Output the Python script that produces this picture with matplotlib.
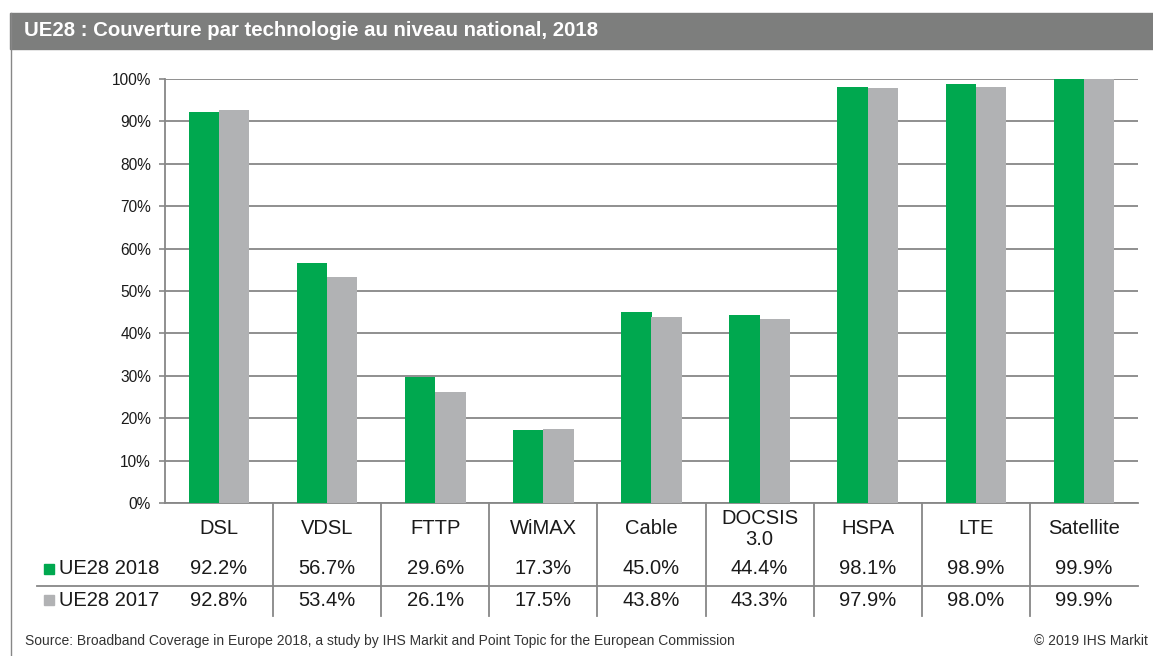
import matplotlib
matplotlib.use("Agg")
import matplotlib.pyplot as plt
import matplotlib.transforms as mtransforms
from matplotlib.patches import Rectangle
from matplotlib.lines import Line2D


# Chart data

categories = ["DSL", "VDSL", "FTTP", "WiMAX", "Cable", "DOCSIS\n3.0", "HSPA", "LTE", "Satellite"]
series_names = ["UE28 2018", "UE28 2017"]
values_2018 = [92.2, 56.7, 29.6, 17.3, 45.0, 44.4, 98.1, 98.9, 99.9]
values_2017 = [92.8, 53.4, 26.1, 17.5, 43.8, 43.3, 97.9, 98.0, 99.9]
y_ticks = [0, 10, 20, 30, 40, 50, 60, 70, 80, 90, 100]

title = "UE28 : Couverture par technologie au niveau national, 2018"
source = "Source: Broadband Coverage in Europe 2018, a study by IHS Markit and Point Topic for the European Commission"
copyright_note = "\u00a9 2019 IHS Markit"


# Style

W, H = 1153, 656
GREEN = "#00a84f"
GREY = "#b1b2b4"
LINE = "#878787"
TEXT = "#1a1a1a"
BAR_W = 0.28

plt.rcParams["font.family"] = ["Liberation Sans", "DejaVu Sans"]


def fy(py):
    # pixel row (from top) -> figure fraction
    return 1 - py / H


def fx(px):
    return px / W


fig = plt.figure(figsize=(W / 100, H / 100), dpi=100)

# title bar + left frame line
fig.patches.append(Rectangle((fx(10), fy(49)), 1 - fx(10), fy(13) - fy(49),
                             transform=fig.transFigure, color="#7d7e7d", zorder=0))
fig.text(fx(24), fy(31), title, color="white", fontsize=14.7, fontweight="bold",
         ha="left", va="center")
fig.lines.append(Line2D([fx(11), fx(11)], [fy(13), 0], transform=fig.transFigure,
                        color=LINE, lw=1.0))

# main axes
ax = fig.add_axes([fx(165), fy(503), fx(1138) - fx(165), fy(79) - fy(503)])
x = list(range(len(categories)))
ax.bar([i - BAR_W / 2 for i in x], values_2018, width=BAR_W, color=GREEN, zorder=3)
ax.bar([i + BAR_W / 2 for i in x], values_2017, width=BAR_W, color=GREY, zorder=3)

ax.set_xlim(-0.5, len(categories) - 0.5)
ax.set_ylim(0, 100)
ax.set_yticks(y_ticks)
ax.set_yticklabels([f"{t}%" for t in y_ticks], fontsize=11.2, color=TEXT)
ax.set_xticks([])
ax.yaxis.grid(True, color=LINE, lw=1.3, zorder=0)
ax.set_axisbelow(True)
ax.tick_params(axis="y", length=4, width=1.2, color=LINE, pad=6)
for side in ["top", "right"]:
    ax.spines[side].set_visible(False)
for side in ["left", "bottom"]:
    ax.spines[side].set_color(LINE)
    ax.spines[side].set_linewidth(1.3)

# data table under the chart
trans = mtransforms.blended_transform_factory(ax.transData, fig.transFigure)
row_y = [fy(569), fy(600)]
rows = [values_2018, values_2017]
colors = [GREEN, GREY]

for i, cat in enumerate(categories):
    ax.text(i, fy(529), cat, transform=trans, ha="center", va="center",
            fontsize=14.5, color=TEXT, linespacing=1.15, clip_on=False)
    for vals, yy in zip(rows, row_y):
        ax.text(i, yy, f"{vals[i]:.1f}%", transform=trans, ha="center", va="center",
                fontsize=14.5, color=TEXT, clip_on=False)

# vertical separators between columns
for k in range(1, len(categories)):
    ax.add_line(Line2D([k - 0.5, k - 0.5], [fy(503), fy(616)], transform=trans,
                       color=LINE, lw=1.3, clip_on=False))

# line between the two rows
fig.lines.append(Line2D([fx(37), fx(1138)], [fy(586), fy(586)],
                        transform=fig.transFigure, color=LINE, lw=1.3))

# row headers with legend squares
for name, col, yy in zip(series_names, colors, row_y):
    fig.patches.append(Rectangle((fx(44), yy - 5 / H), 10 / W, 10 / H,
                                 transform=fig.transFigure, color=col))
    fig.text(fx(59), yy, name, fontsize=14.5, color=TEXT, ha="left", va="center")

# footer
fig.text(fx(25), fy(641), source, fontsize=10, color="#333333", ha="left", va="center")
fig.text(fx(1148), fy(641), copyright_note, fontsize=10, color="#333333",
         ha="right", va="center")

fig.savefig("out.png", dpi=100)
